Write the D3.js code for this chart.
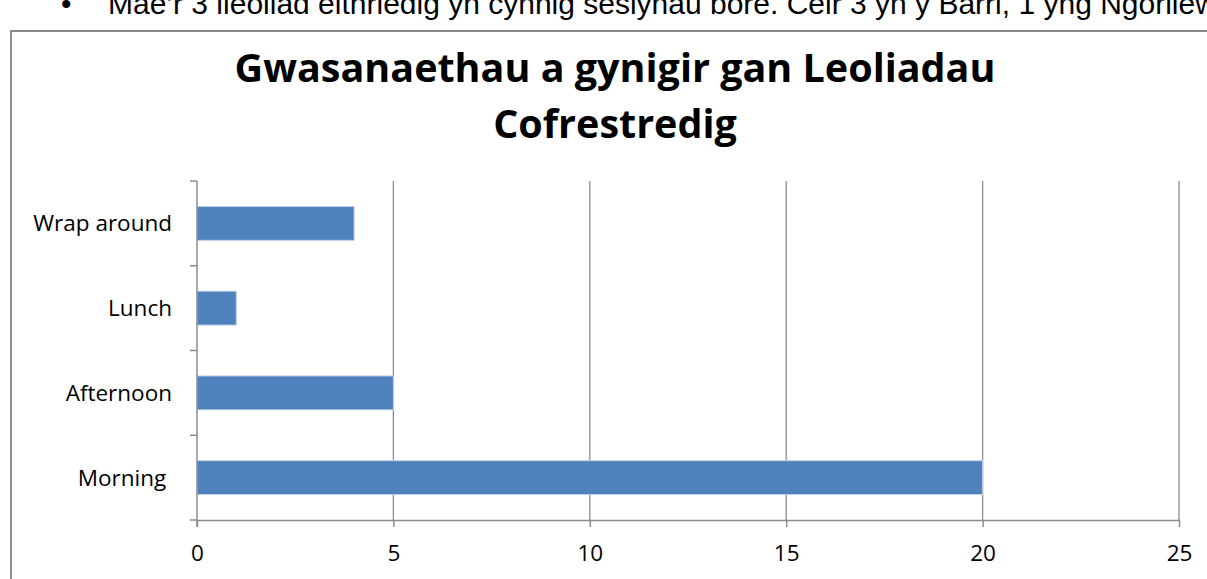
<!DOCTYPE html>
<html>
<head>
<meta charset="utf-8">
<script src="https://cdn.jsdelivr.net/npm/d3@7"></script>
<style>
  html, body { margin: 0; padding: 0; background: #fff; overflow: hidden; }
  svg { display: block; }
  text { white-space: pre; }
</style>
</head>
<body>
<div id="chart"></div>
<script>
// ── Data ──────────────────────────────────────────────────────────────
const categories = ['Morning ', 'Afternoon', 'Lunch', 'Wrap around'];
const values     = [20, 5, 1, 4];
const xTicks     = [0, 5, 10, 15, 20, 25];
const titleLines = ['Gwasanaethau a gynigir gan Leoliadau', 'Cofrestredig'];
const bodyText   = 'Mae\u2019r 3 lleoliad eithriedig yn cynnig sesiynau bore. Ceir 3 yn y Barri, 1 yng Ngorllewin Morgannwg';

const data = categories.map((c, i) => ({ cat: c, val: values[i] }));

// ── Layout ────────────────────────────────────────────────────────────
const width = 1207, height = 579;
const plot = { left: 197, right: 1179, top: 181, bottom: 520 };

const svg = d3.select('#chart').append('svg')
    .attr('width', width).attr('height', height);

// document text above the chart (its top is clipped by the page edge, as in the source)
svg.append('text')
    .attr('x', 61).attr('y', 14)
    .style('font-family', 'Liberation Sans, Arial, sans-serif')
    .style('font-size', '30px').style('fill', '#000')
    .text('\u2022');
svg.append('text')
    .attr('x', 108).attr('y', 14)
    .style('font-family', 'Liberation Sans, Arial, sans-serif')
    .style('font-size', '30px').style('fill', '#000')
    .text(bodyText);

// chart frame
svg.append('path')
    .attr('d', 'M11,' + height + ' L11,31 L' + (width + 5) + ',31')
    .attr('fill', 'none').attr('stroke', '#8a8a8a').attr('stroke-width', 2);

// title
svg.append('g').selectAll('text')
    .data(titleLines)
    .join('text')
    .attr('x', 615).attr('y', (d, i) => 82 + i * 56)
    .attr('text-anchor', 'middle')
    .style('font-family', 'Open Sans, sans-serif')
    .style('font-size', '39.5px').style('font-weight', '700')
    .style('fill', '#000')
    .text(d => d);

// ── Scales ────────────────────────────────────────────────────────────
const x = d3.scaleLinear().domain([0, 25]).range([plot.left, plot.right]);
const y = d3.scaleBand().domain(categories)
    .range([plot.bottom, plot.top]).paddingInner(0.6).paddingOuter(0.3);
const yEdges = d3.scaleBand().domain(categories).range([plot.bottom, plot.top]);

// grid lines
svg.append('g').selectAll('line')
    .data(xTicks.filter(t => t > 0))
    .join('line')
    .attr('x1', d => x(d)).attr('x2', d => x(d))
    .attr('y1', plot.top).attr('y2', plot.bottom)
    .attr('stroke', '#8c8c8c').attr('stroke-width', 1.3);

// bars
svg.append('g').selectAll('rect')
    .data(data)
    .join('rect')
    .attr('x', x(0))
    .attr('y', d => y(d.cat))
    .attr('width', d => x(d.val) - x(0))
    .attr('height', y.bandwidth())
    .attr('fill', '#4f81bd')
    .attr('stroke', '#c3d3ea').attr('stroke-width', 1);

// ── Axes ──────────────────────────────────────────────────────────────
const axisColor = '#8c8c8c';

// y axis line + ticks at category boundaries
svg.append('line')
    .attr('x1', plot.left).attr('x2', plot.left)
    .attr('y1', plot.top).attr('y2', plot.bottom + 7)
    .attr('stroke', axisColor).attr('stroke-width', 1.5);
const yTickPos = categories.map(c => yEdges(c)).concat([plot.bottom]);
svg.append('g').selectAll('line')
    .data(yTickPos)
    .join('line')
    .attr('x1', plot.left - 7).attr('x2', plot.left)
    .attr('y1', d => d).attr('y2', d => d)
    .attr('stroke', axisColor).attr('stroke-width', 1.5);

// category labels
svg.append('g').selectAll('text')
    .data(categories)
    .join('text')
    .attr('x', 172)
    .attr('y', d => yEdges(d) + yEdges.bandwidth() / 2)
    .attr('dy', '0.35em')
    .attr('text-anchor', 'end')
    .style('font-family', 'Open Sans, sans-serif')
    .style('font-size', '22.5px').style('fill', '#000')
    .text(d => d);

// x axis
const xAxis = svg.append('g')
    .attr('transform', 'translate(0,' + plot.bottom + ')')
    .call(d3.axisBottom(x).tickValues(xTicks).tickSize(7).tickSizeOuter(0).tickPadding(18));
xAxis.select('.domain').attr('stroke', axisColor).attr('stroke-width', 1.5);
xAxis.selectAll('.tick line').attr('stroke', axisColor).attr('stroke-width', 1.5);
xAxis.selectAll('.tick text')
    .style('font-family', 'Open Sans, sans-serif')
    .style('font-size', '22.5px').style('fill', '#000');
</script>
</body>
</html>
